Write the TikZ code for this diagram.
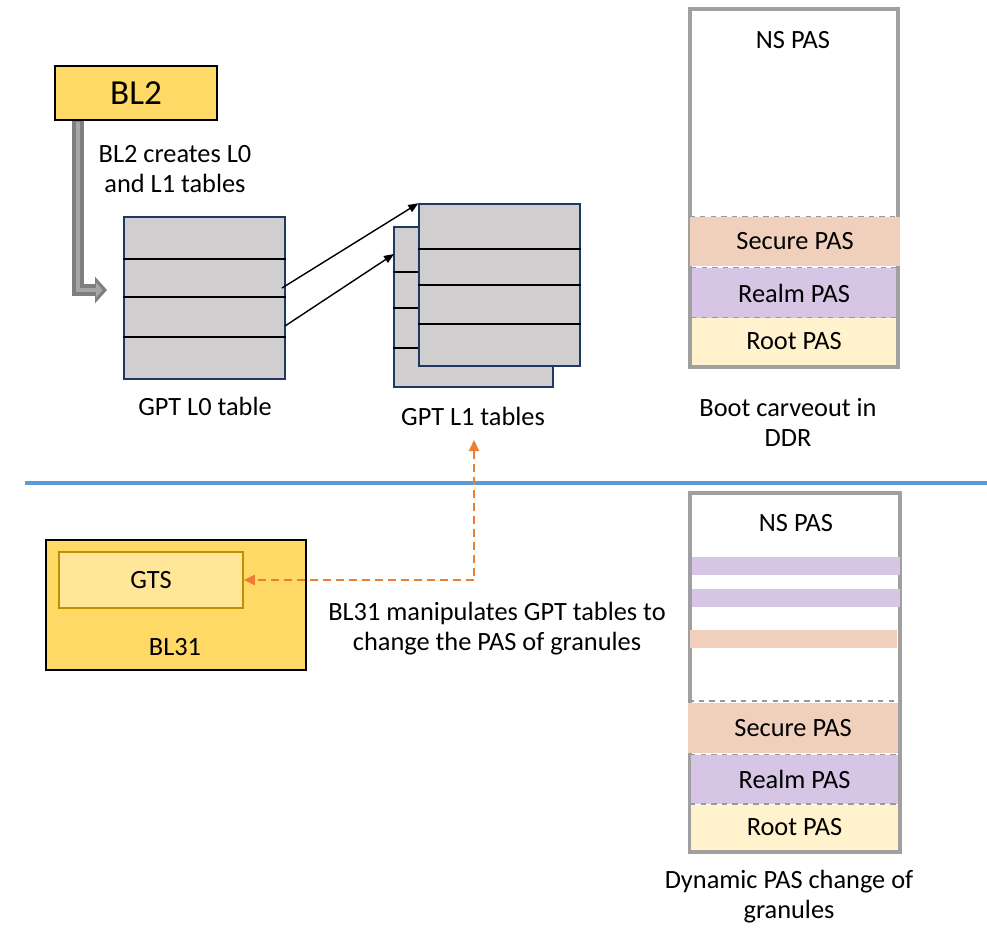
\documentclass[tikz,border=0pt]{standalone}
\usepackage{fontspec}
\setmainfont{Carlito}
\usepackage{xcolor}
\usetikzlibrary{arrows.meta}
\definecolor{blgold}{HTML}{FFD966}
\definecolor{gtsfill}{HTML}{FFE699}
\definecolor{gtsedge}{HTML}{BF9000}
\definecolor{tblgray}{HTML}{D0CECE}
\definecolor{tbledge}{HTML}{1F3864}
\definecolor{secpas}{HTML}{F0D0BC}
\definecolor{realmpas}{HTML}{D6C5E4}
\definecolor{rootpas}{HTML}{FFF2CC}
\definecolor{memedge}{HTML}{A0A0A0}
\definecolor{sepblue}{HTML}{5B9BD5}
\definecolor{gtsorange}{HTML}{ED7D31}
\definecolor{arrowout}{HTML}{7F7F7F}
\definecolor{arrowin}{HTML}{A6A6A6}

\begin{document}
\begin{tikzpicture}[x=0.02cm, y=-0.02cm, every node/.style={font=\fontsize{15}{17}\selectfont},
  blbox/.style={draw=black, fill=blgold, line width=0.9pt, inner sep=0pt},
  gtsbox/.style={draw=gtsedge, fill=gtsfill, line width=0.9pt, inner sep=0pt},
  gpttable/.style={draw=tbledge, fill=tblgray, line width=0.8pt, inner sep=0pt, minimum width=3.22cm, minimum height=3.24cm},
  membox/.style={draw=memedge, fill=white, line width=1.9pt, inner sep=0pt},
  pasband/.style={inner sep=0pt, draw=none},
  bandtop/.style={draw=gray!80, dashed, line width=0.8pt},
  rowline/.style={black, line width=1.1pt},
  ptr/.style={-{Triangle[length=0.2cm, width=0.16cm]}, black, line width=0.8pt},
  pasarrow/.style={{Triangle[length=0.22cm, width=0.2cm]}-{Triangle[length=0.22cm, width=0.2cm]}, gtsorange, line width=1.1pt, dash pattern=on 0.16cm off 0.1cm}]
\useasboundingbox (0,0) rectangle (987,927);

\node[blbox, minimum width=3.24cm, minimum height=1.08cm, font=\fontsize{20}{24}\selectfont] (BL2) at (136,93) {BL2};
\node[align=center] (BL2txt) at (175,169) {BL2 creates L0\\and L1 tables};

\node[gpttable] (L0) at (204.5,298) {};
\foreach \y in {259,297,337} \draw[rowline] (L0.west |- 0,\y) -- (L0.east |- 0,\y);
\node (L0lbl) at (205,406) {GPT L0 table};

\node[gpttable, minimum width=3.18cm, minimum height=3.2cm] (L1b) at (473.5,307) {};
\foreach \y in {272,308,348} \draw[rowline] (L1b.west |- 0,\y) -- (L1b.east |- 0,\y);
\node[gpttable] (L1f) at (499.5,285) {};
\foreach \y in {249,285,324} \draw[rowline] (L1f.west |- 0,\y) -- (L1f.east |- 0,\y);
\node (L1lbl) at (473,416) {GPT L1 tables};

\coordinate (l0a) at (282,288);
\coordinate (l0b) at (285,326);
\coordinate (l1b) at (394,254);
\draw[ptr] (l0a) -- (L1f.north west);
\draw[ptr] (l0b) -- (l1b);

\coordinate (bl2tip) at (107,290);
\draw[arrowout, line width=0.24cm, -{Triangle[length=0.24cm, width=0.52cm]}] (78,0 |- BL2.south) |- (bl2tip);
\draw[arrowin, line width=0.09cm, shorten >=0.09cm, -{Triangle[length=0.13cm, width=0.3cm]}] ([yshift=-0.02cm]78,0 |- BL2.south) |- (bl2tip);

\node[membox, minimum width=4.16cm, minimum height=7.16cm] (DDR) at (794,188) {};
\node (DDRns) at (793,40) {NS PAS};
\node[pasband, fill=secpas, minimum width=4.2cm, minimum height=0.98cm] (DDRsec) at (795,241.5) {Secure PAS};
\node[pasband, fill=realmpas, minimum width=4.1cm, minimum height=1.0cm] (DDRrealm) at (794,293) {Realm PAS};
\node[pasband, fill=rootpas, minimum width=4.1cm, minimum height=0.94cm] (DDRroot) at (794,341.5) {Root PAS};
\foreach \b in {DDRsec,DDRrealm,DDRroot} \draw[bandtop] (\b.north west) -- (\b.north east);
\node[align=center] (DDRlbl) at (788,422) {Boot carveout in\\DDR};

\draw[sepblue, line width=0.08cm] (25,483) -- (987,483);

\node[membox, minimum width=4.2cm, minimum height=7.18cm] (DYN) at (795,672.5) {};
\node (DYNns) at (796,523) {NS PAS};
\node[pasband, fill=realmpas, minimum width=4.16cm, minimum height=0.36cm] (DYNg1) at (796,566) {};
\node[pasband, fill=realmpas, minimum width=4.16cm, minimum height=0.36cm] (DYNg2) at (796,598) {};
\node[pasband, fill=secpas, minimum width=4.16cm, minimum height=0.36cm] (DYNg3) at (793.5,639) {};
\node[pasband, fill=secpas, minimum width=4.2cm, minimum height=1.0cm] (DYNsec) at (793,728) {Secure PAS};
\node[pasband, fill=realmpas, minimum width=4.16cm, minimum height=0.98cm] (DYNrealm) at (794.5,779.5) {Realm PAS};
\node[pasband, fill=rootpas, minimum width=4.16cm, minimum height=0.9cm] (DYNroot) at (794.5,827) {Root PAS};
\draw[bandtop] (DYN.west |- 0,701) -- (DYN.east |- 0,701);
\foreach \b in {DYNrealm,DYNroot} \draw[bandtop] (\b.north west) -- (\b.north east);
\node[align=center] (DYNlbl) at (789,897) {Dynamic PAS change of\\granules};

\node[blbox, minimum width=5.2cm, minimum height=2.6cm] (BL31) at (176,605) {};
\node[gtsbox, minimum width=3.68cm, minimum height=1.12cm] (GTS) at (151,580) {GTS};
\node (BL31lbl) at (175,647) {BL31};
\node[align=center] (BL31txt) at (497,629) {BL31 manipulates GPT tables to\\change the PAS of granules};

\coordinate (gptup) at (474,440);
\draw[pasarrow] (gptup) |- (GTS.east);
\end{tikzpicture}
\end{document}
